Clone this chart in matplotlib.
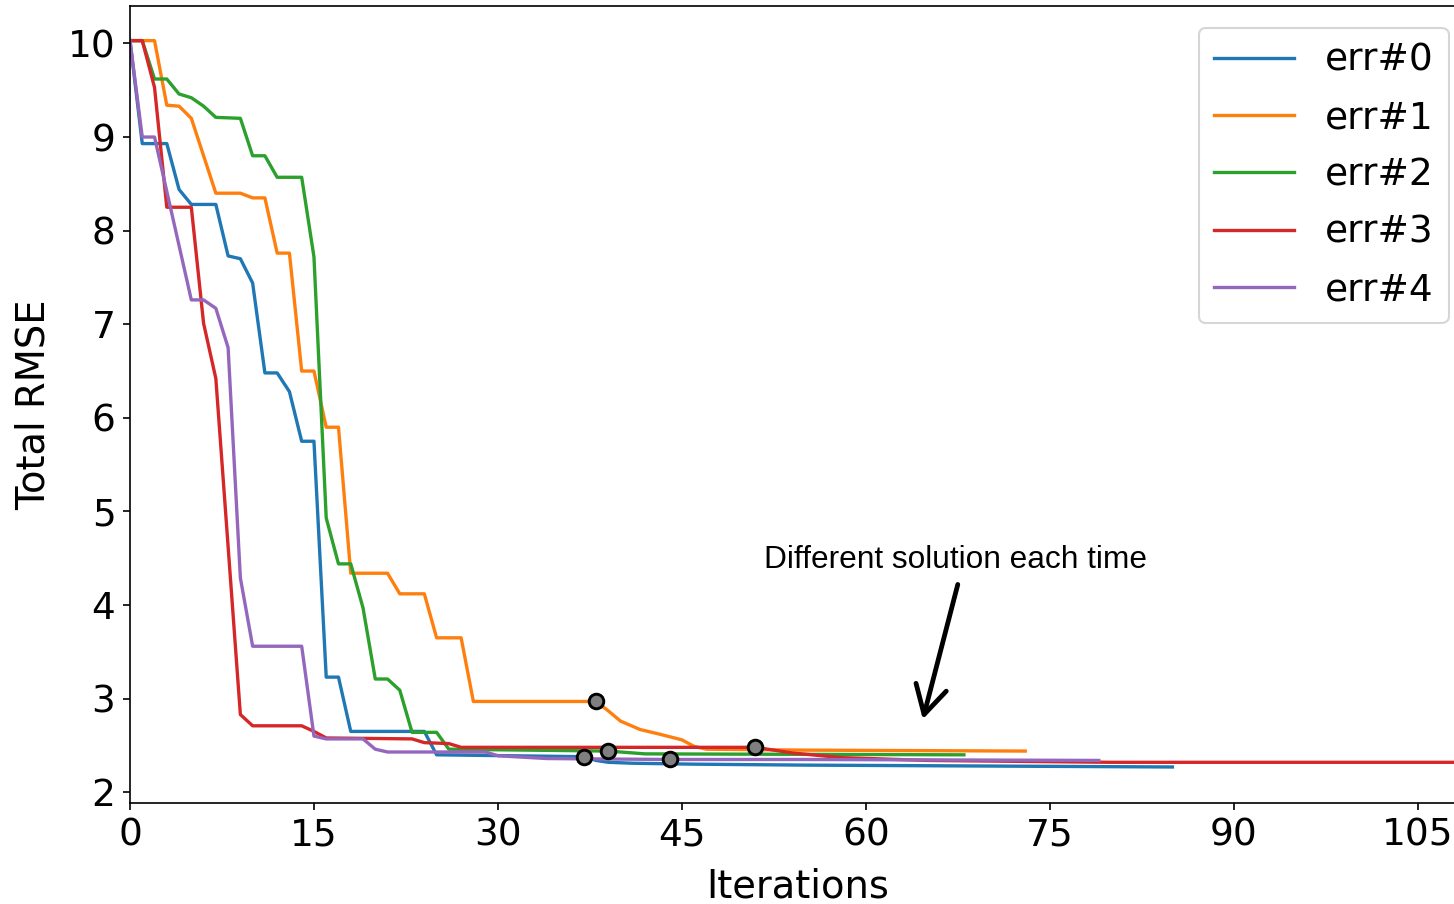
import matplotlib
matplotlib.use("Agg")
import matplotlib.pyplot as plt

# ── Data (vertices) ────────────────────────────────────────────────
err0_x = [0, 1, 3, 4, 5, 7, 8, 9, 10, 11, 12, 13, 14, 15, 16, 17, 18, 24, 25, 37, 38, 39, 41, 46, 55, 70, 85]
err0_y = [10.03, 8.93, 8.93, 8.44, 8.28, 8.28, 7.73, 7.70, 7.44, 6.48, 6.48, 6.28, 5.75, 5.75, 3.23, 3.23,
          2.65, 2.65, 2.40, 2.38, 2.34, 2.32, 2.31, 2.30, 2.29, 2.28, 2.27]

err1_x = [0, 2, 3, 4, 5, 7, 9, 10, 11, 12, 13, 14, 15, 16, 17, 18, 21, 22, 24, 25, 27, 28, 38,
          39, 40, 41.6, 43.2, 45, 46, 47, 55, 73]
err1_y = [10.03, 10.03, 9.34, 9.33, 9.20, 8.40, 8.40, 8.35, 8.35, 7.76, 7.76, 6.50, 6.50, 5.90, 5.90,
          4.34, 4.34, 4.12, 4.12, 3.65, 3.65, 2.97, 2.97, 2.87, 2.76, 2.67, 2.62, 2.56, 2.49, 2.46, 2.45, 2.44]

err2_x = [0, 1, 2, 3, 4, 5, 6, 7, 9, 10, 11, 12, 14, 15, 16, 17, 18, 19, 20, 21, 22, 23, 25, 26, 39, 42, 68]
err2_y = [10.03, 10.03, 9.62, 9.62, 9.46, 9.42, 9.33, 9.21, 9.20, 8.80, 8.80, 8.57, 8.57, 7.72, 4.93,
          4.44, 4.44, 3.97, 3.21, 3.21, 3.09, 2.64, 2.64, 2.46, 2.44, 2.41, 2.40]

err3_x = [0, 1, 2, 3, 5, 6, 7, 9, 10, 14, 15, 16, 23, 24, 26, 27, 51, 54, 58, 65, 80, 110]
err3_y = [10.03, 10.03, 9.53, 8.25, 8.25, 7.01, 6.42, 2.83, 2.71, 2.71, 2.65, 2.58, 2.57, 2.53, 2.52,
          2.48, 2.48, 2.42, 2.37, 2.34, 2.32, 2.32]

err4_x = [0, 1, 2, 5, 6, 7, 8, 9, 10, 14, 15, 16, 19, 20, 21, 29, 30, 34, 44, 55, 79]
err4_y = [10.03, 9.00, 9.00, 7.26, 7.26, 7.17, 6.75, 4.29, 3.56, 3.56, 2.60, 2.57, 2.57, 2.46, 2.43,
          2.43, 2.39, 2.36, 2.35, 2.35, 2.34]

# one grey dot per run
mark_x = [37, 38, 39, 51, 44]
mark_y = [2.38, 2.97, 2.44, 2.48, 2.35]

labels = ["err#0", "err#1", "err#2", "err#3", "err#4"]
x_ticks = [0, 15, 30, 45, 60, 75, 90, 105]
y_ticks = [2, 3, 4, 5, 6, 7, 8, 9, 10]

# ── Plot ───────────────────────────────────────────────────────────
W, H = 1454, 904
fig = plt.figure(figsize=(W / 150, H / 150), dpi=150)
ax = fig.add_axes([130 / W, (H - 803.3) / H, (1465.5 - 130) / W, (803.3 - 6) / H])

series = [(err0_x, err0_y), (err1_x, err1_y), (err2_x, err2_y), (err3_x, err3_y), (err4_x, err4_y)]
for (xs, ys), lab in zip(series, labels):
    ax.plot(xs, ys, linewidth=1.6, label=lab)

ax.plot(mark_x, mark_y, linestyle="none", marker="o", markersize=7,
        markerfacecolor="#7f7f7f", markeredgecolor="black", markeredgewidth=1.4, zorder=4)

ax.set_xlim(0, 108.9)
ax.set_ylim(1.882, 10.40)
ax.set_xticks(x_ticks)
ax.set_yticks(y_ticks)
ax.tick_params(labelsize=18)
ax.set_xlabel("Iterations", fontsize=18.5, labelpad=6.5)
ax.set_ylabel("Total RMSE", fontsize=18.5, labelpad=7)

ax.legend(loc="upper right", fontsize=18, handlelength=2.15, handletextpad=0.82,
          labelspacing=0.57, borderaxespad=0.45, bbox_to_anchor=(1.0, 0.994))

# annotation added on top of the figure
ax.text(67.3, 4.48, "Different solution each time", fontsize=15.2,
        family=["Liberation Sans", "DejaVu Sans"], ha="center", va="center")
ax.annotate("", xy=(64.65, 2.78), xytext=(67.5, 4.22),
            arrowprops=dict(arrowstyle="->,head_length=0.45,head_width=0.25", lw=2.3,
                            color="black", mutation_scale=30, shrinkA=0, shrinkB=0))

fig.savefig("out.png", dpi=150)
